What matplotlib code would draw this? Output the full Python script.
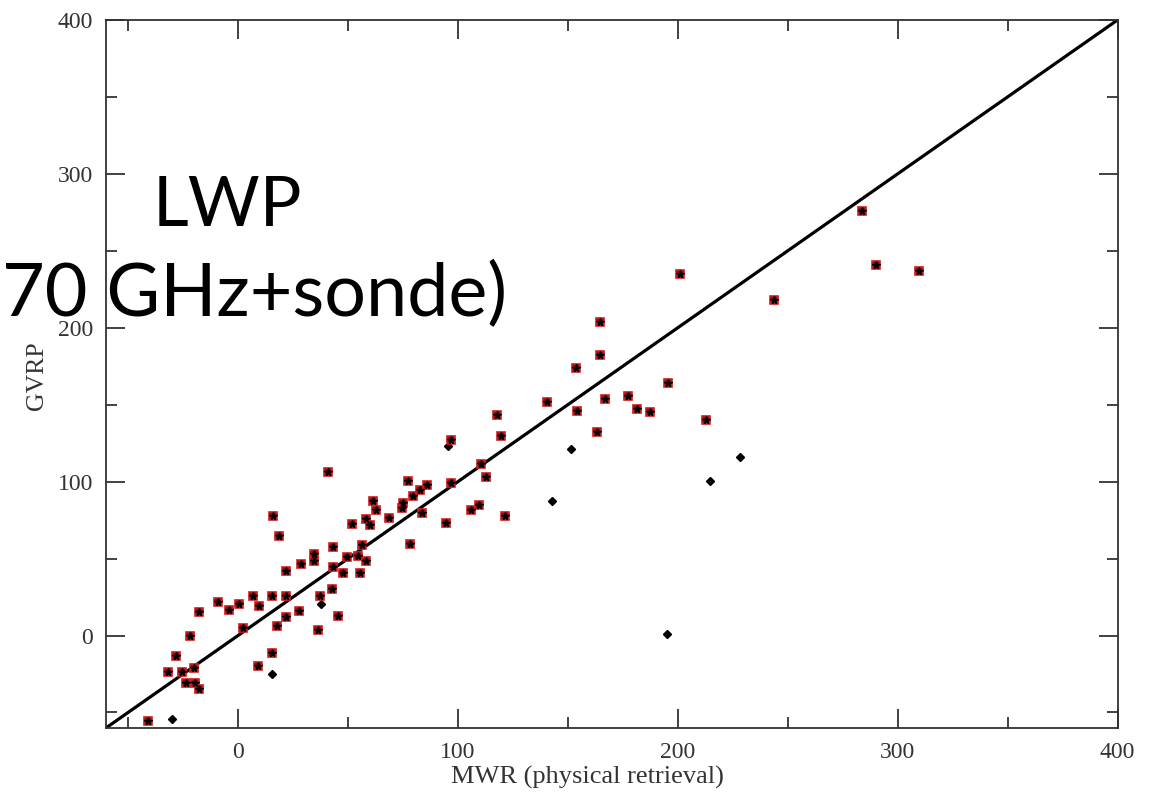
import numpy as np
import matplotlib.pyplot as plt
plt.close('all')

# LWP scatter: MWR (physical retrieval) vs GVRP
# points that have both the red square and the black star
mwr_both = [41, 16, 18.6, -22, -28, -32, -25.6, -20, -23.6, -19.5, -17.6, -41,
            -17.7, -9, -4, 0.6, 2.4, 7, 9.5, 15.6, 21.7, 21.7, 17.6, 9, 15.6,
            27.7, 28.5, 21.8, 34.7, 34.7, 36.5, 37.3, 42.9, 43.3, 43.3, 45.6,
            47.6, 49.7, 52, 54.8, 55.5, 56.4, 58, 58, 60, 61.5, 62.6, 68.5,
            74.5, 75.2, 77.4, 78.2, 79.7, 82.7, 83.8, 85.8, 94.5, 97, 97.1,
            105.9, 109.7, 110.3, 113, 117.9, 119.5, 121.4, 140.6, 153.5, 154,
            163.3, 164.5, 164.8, 167, 177.4, 181.5, 187.3, 195.6, 200.9, 213,
            243.8, 283.8, 290.3, 309.5]
gvrp_both = [106, 77.5, 65, 0, -13, -24, -24, -21, -30.7, -30.7, -35, -55.6,
             15.4, 21.6, 16.4, 20.8, 5, 25.5, 19.5, 25.5, 26, 12, 6.5, -20, -11.3,
             15.8, 46.8, 42.2, 53.2, 48.3, 3.5, 26, 30.5, 57.6, 44.4, 13,
             40.7, 50.9, 72.7, 52, 40.7, 58.7, 48.3, 75.8, 72, 87.2, 81.8, 76.4,
             82.9, 86.2, 100.2, 59.5, 90.5, 94.4, 79.7, 98, 73.2, 99, 126.8,
             81.8, 85.1, 111.5, 103, 143.1, 129.4, 77.5, 151.5, 173.8, 146.1,
             132.3, 182.5, 204, 153.7, 155.4, 147.2, 145.3, 164, 235, 140,
             218, 276, 240.5, 237.2]

# points with only the black diamond
mwr_only = [-30, 15.6, 37.6, 95.6, 143, 151.4, 194.9, 214.5, 228.2]
gvrp_only = [-54.5, -25.3, 20.8, 123.4, 87.2, 121.4, 1.3, 100.2, 116]

one_to_one = [-60, 400]

fig = plt.figure(figsize=(11.68, 7.99), dpi=100)
ax = fig.add_axes([0.0908, 0.089, 0.866, 0.886])

ax.plot(one_to_one, one_to_one, color='black', linewidth=2.3, zorder=2)
ax.plot(mwr_only, gvrp_only, linestyle='none', marker='D', markersize=4.5,
        color='black', zorder=3)
ax.plot(mwr_both, gvrp_both, linestyle='none', marker='s', markersize=6,
        markerfacecolor='#8b1010', markeredgecolor='#d01c1c',
        markeredgewidth=1.2, zorder=3)
ax.plot(mwr_both, gvrp_both, linestyle='none', marker='*', markersize=5.5,
        color='black', zorder=4)

ax.set_xlim(-60, 400)
ax.set_ylim(-60, 400)
ax.set_xticks([0, 100, 200, 300, 400])
ax.set_yticks([0, 100, 200, 300, 400])
ax.set_xticks([-50, 50, 150, 250, 350], minor=True)
ax.set_yticks([-50, 50, 150, 250, 350], minor=True)
ax.tick_params(which='both', direction='in', top=True, right=True,
               color='#333333', width=1.3)
ax.tick_params(which='major', length=14, labelsize=17, labelcolor='#333333')
ax.tick_params(axis='x', which='major', pad=10)
ax.tick_params(axis='y', which='major', pad=9.5)
ax.tick_params(which='minor', length=8)
for lab in ax.get_xticklabels() + ax.get_yticklabels():
    lab.set_family('Liberation Serif')
for s in ax.spines.values():
    s.set_color('#333333')
    s.set_linewidth(1.3)

ax.set_xlabel('MWR (physical retrieval)', family='Liberation Serif',
              fontsize=19, color='#333333')
ax.set_ylabel('GVRP', family='Liberation Serif', fontsize=18.5,
              color='#333333')
ax.xaxis.set_label_coords(0.476, -0.054)
ax.yaxis.set_label_coords(-0.057, 0.497)

# big overlay title, partly cut off on the left
fig.text(153 / 1168, 1 - 226 / 799, 'LWP', family='Lato', fontsize=50,
         color='black', ha='left', va='baseline')
fig.text(507 / 1168, 1 - 316 / 799, '70 GHz+sonde)', family='Lato',
         fontsize=53, color='black', ha='right', va='baseline')

fig.savefig('out.png', dpi=100)
